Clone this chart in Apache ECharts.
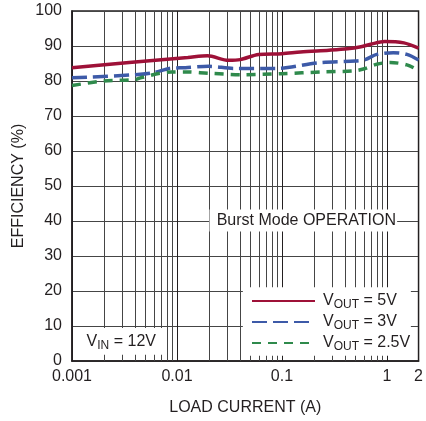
<!DOCTYPE html>
<html>
<head>
<meta charset="utf-8">
<script src="https://cdn.jsdelivr.net/npm/echarts@6/dist/echarts.min.js"></script>
<style>
  html, body { margin: 0; padding: 0; background: #fff; }
  #chart { width: 426px; height: 421px; }
</style>
</head>
<body>
<div id="chart"></div>
<script>
// Load current (A) and efficiency (%) for each output voltage
const load5V  = [0.001, 0.0035, 0.0127, 0.0195, 0.031, 0.04, 0.06, 0.1, 0.15, 0.28, 0.42, 0.55, 0.7, 0.95, 1.45, 2];
const eff5V   = [83.8, 85.3, 86.7, 87.2, 85.9, 86.1, 87.6, 87.8, 88.3, 88.8, 89.2, 89.7, 90.5, 91.3, 90.9, 89.4];

const load3V  = [0.001, 0.004, 0.006, 0.0085, 0.012, 0.02, 0.035, 0.09, 0.22, 0.5, 0.62, 0.8, 1.15, 1.55, 2];
const eff3V   = [80.9, 81.8, 82.4, 83.6, 83.8, 84.2, 83.6, 83.6, 85.2, 85.7, 86.1, 87.6, 88.1, 87.6, 86.0];

const load25V = [0.001, 0.002, 0.004, 0.0046, 0.0088, 0.012, 0.02, 0.042, 0.1, 0.24, 0.49, 0.61, 0.8, 1.07, 1.55, 2];
const eff25V  = [78.7, 80.0, 80.4, 81.0, 82.6, 82.6, 82.2, 81.8, 82.1, 82.6, 82.9, 83.5, 84.8, 85.3, 84.6, 83.0];

// Axis ticks
const xTickValues = [0.001, 0.01, 0.1, 1, 2];
const xTickLabels = ['0.001', '0.01', '0.1', '1', '2'];
const yTickLabels = ['0', '10', '20', '30', '40', '50', '60', '70', '80', '90', '100'];

// Intermediate log grid lines (2..9 of each decade)
const minorGrid = [];
[0.001, 0.01, 0.1].forEach(d => { for (let k = 2; k <= 9; k++) minorGrid.push(+(k * d).toPrecision(3)); });

// White panels behind the annotations: [x0, yTop, x1, yBottom]
const panelBounds = [
  [0.0204, 43.3, 1.25, 37.0],
  [0.00103, 9.4, 0.0074, 1.8],
  [0.0424, 21.1, 1.69, 1.5]
];
const panelTexts = ['Burst Mode OPERATION', '{v|V}{sub|IN}{v| = 12V}', ''];

const FONT = "'Liberation Sans', Arial, sans-serif";
const INK = '#231f20';
const GRID = '#454545';

const pairs = (xs, ys) => xs.map((x, i) => [x, ys[i]]);

const rich = {
  v:   { fontFamily: FONT, fontSize: 16, color: INK, lineHeight: 20, verticalAlign: 'middle' },
  sub: { fontFamily: FONT, fontSize: 12, color: INK, lineHeight: 12, verticalAlign: 'bottom' }
};

const curves = [
  { name: 'VOUT5',  label: '5V',   x: load5V,  y: eff5V,  color: '#9e1138', type: 'solid' },
  { name: 'VOUT3',  label: '3V',   x: load3V,  y: eff3V,  color: '#3d5aa8', type: [15, 6] },
  { name: 'VOUT25', label: '2.5V', x: load25V, y: eff25V, color: '#2f8a4c', type: [9, 7] }
];

const chart = echarts.init(document.getElementById('chart'), null, { renderer: 'canvas' });

const legendTops = [293, 314, 335];

chart.setOption({
  animation: false,
  backgroundColor: '#fff',
  textStyle: { fontFamily: FONT },
  grid: { left: 72, right: 1, top: 11, bottom: 59, show: true, borderColor: INK, borderWidth: 1.5, backgroundColor: 'transparent' },
  legend: curves.map((c, i) => ({
    data: [c.name],
    left: 251,
    top: legendTops[i],
    itemWidth: 63,
    itemHeight: 14,
    padding: 0,
    z: 10,
    selectedMode: false,
    itemStyle: { opacity: 0, borderWidth: 0 },
    formatter: () => '{v|V}{sub|OUT}{v| = ' + c.label + '}',
    textStyle: { rich: rich, padding: [0, 0, 0, 3] }
  })),
  xAxis: {
    type: 'log',
    logBase: 10,
    min: 0.001,
    max: 2,
    name: 'LOAD CURRENT (A)',
    nameLocation: 'middle',
    nameGap: 39,
    nameTextStyle: { fontFamily: FONT, fontSize: 16, color: INK },
    axisLine: { show: true, lineStyle: { color: INK, width: 1.5 } },
    axisTick: { show: false },
    axisLabel: {
      fontFamily: FONT, fontSize: 16, color: INK, margin: 8,
      formatter: v => {
        for (let i = 0; i < xTickValues.length; i++) {
          if (Math.abs(Math.log10(v) - Math.log10(xTickValues[i])) < 0.01) return xTickLabels[i];
        }
        return '';
      }
    },
    splitLine: { show: true, lineStyle: { color: INK, width: 1 } },
    minorTick: { show: false },
    minorSplitLine: { show: false }
  },
  yAxis: {
    type: 'value',
    min: 0,
    max: 100,
    interval: 10,
    name: 'EFFICIENCY (%)',
    nameLocation: 'middle',
    nameGap: 45,
    nameMoveOverlap: false,
    nameTextStyle: { fontFamily: FONT, fontSize: 16, color: INK },
    axisLine: { show: true, lineStyle: { color: INK, width: 1.5 } },
    axisTick: { show: false },
    axisLabel: {
      fontFamily: FONT, fontSize: 16, color: INK, margin: 10,
      formatter: v => yTickLabels[Math.round(v / 10)]
    },
    splitLine: { show: true, lineStyle: { color: GRID, width: 1 } }
  },
  series: [
    {
      // intermediate decade grid lines
      name: 'minorGrid', type: 'custom', z: 1, silent: true,
      data: minorGrid.map(v => [v]),
      encode: { x: 0 },
      renderItem: (params, api) => {
        const v = api.value(0);
        const p0 = api.coord([v, 0]);
        const p1 = api.coord([v, 100]);
        return {
          type: 'line',
          shape: { x1: Math.round(p0[0]) + 0.5, y1: p0[1], x2: Math.round(p0[0]) + 0.5, y2: p1[1] },
          style: { stroke: GRID, lineWidth: 1 }
        };
      }
    },
    {
      // white panels with their annotation text
      name: 'panels', type: 'custom', z: 2, silent: true,
      data: panelBounds,
      encode: { x: [0, 2], y: [1, 3] },
      renderItem: (params, api) => {
        const a = api.coord([api.value(0), api.value(1)]);
        const b = api.coord([api.value(2), api.value(3)]);
        const txt = panelTexts[params.dataIndex];
        const children = [{
          type: 'rect',
          shape: { x: a[0], y: a[1], width: b[0] - a[0], height: b[1] - a[1] },
          style: { fill: '#fff' }
        }];
        if (txt) {
          children.push({
            type: 'text',
            x: (a[0] + b[0]) / 2 + 3,
            y: (a[1] + b[1]) / 2,
            style: {
              text: txt, rich: rich,
              font: '16px ' + FONT, fill: INK,
              align: 'center', verticalAlign: 'middle'
            }
          });
        }
        return { type: 'group', children: children };
      }
    }
  ].concat(curves.map(c => ({
    name: c.name,
    type: 'line',
    z: 3,
    data: pairs(c.x, c.y),
    showSymbol: false,
    symbol: 'none',
    smooth: 0.3,
    color: c.color,
    lineStyle: { color: c.color, width: 3.5, type: c.type, cap: 'butt' }
  })))
});
</script>
</body>
</html>
